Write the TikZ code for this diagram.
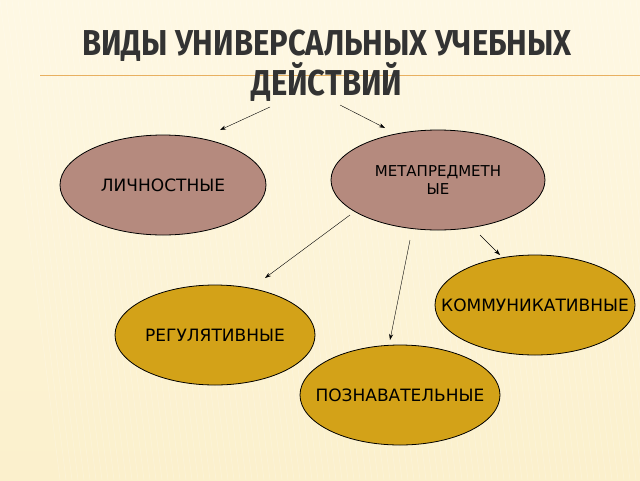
\documentclass[tikz,border=0pt]{standalone}
\usepackage{fontspec}
\setmainfont{DejaVu Sans}
\newfontfamily\titlefont{Fira Sans}
\usetikzlibrary{arrows.meta, shapes.geometric}
\definecolor{bgpale}{HTML}{FBF0CC}
\definecolor{bgtop}{HTML}{FEF8E4}
\definecolor{rosy}{HTML}{B58A7E}
\definecolor{gold}{HTML}{D3A218}
\definecolor{rule}{HTML}{E8B060}
\tikzset{
  kind/.style={ellipse, draw, thick, minimum width=#1, minimum height=100pt, inner sep=0pt},
  word/.style={font=\fontsize{17}{20}\selectfont, align=center},
  link/.style={-{Stealth[length=6pt, width=4pt]}, thin}
}

\begin{document}
\begin{tikzpicture}[x=1pt, y=-1pt]
                % Background:
                \shade[top color=bgtop, bottom color=bgpale] (0,0) rectangle (640,480);
                \useasboundingbox (0,0) rectangle (640,480);
                \foreach \s in {0,6,...,640}
                  \draw[white, opacity=0.25, line width=0.6pt] (\s,0) -- (\s+60,480);
                \draw[rule, line width=1pt] (40,75) -- (640,75);

                % Title:
                \node[font=\titlefont\bfseries\fontsize{36}{29}\selectfont, align=center, text=black!80, xscale=0.86] (title) at (327,66)
                  {ВИДЫ УНИВЕРСАЛЬНЫХ УЧЕБНЫХ\\ДЕЙСТВИЙ};

                % Kinds:
                \node[kind=206pt, fill=rosy] (lichn) at (163,185) {};
                \node[kind=214pt, fill=rosy] (meta) at (438,180) {};
                \node[kind=200pt, fill=gold] (komm) at (535,305) {};
                \node[kind=200pt, fill=gold] (regul) at (215,335) {};
                \node[kind=200pt, fill=gold] (pozn) at (400,395) {};
                \node[word] (lichn text) at (lichn) {ЛИЧНОСТНЫЕ};
                \node[word, font=\fontsize{15}{18}\selectfont] (meta text) at (438,180) {МЕТАПРЕДМЕТН\\ЫЕ};
                \node[word] (komm text) at (komm) {КОММУНИКАТИВНЫЕ};
                \node[word] (regul text) at (regul) {РЕГУЛЯТИВНЫЕ};
                \node[word] (pozn text) at (pozn) {ПОЗНАВАТЕЛЬНЫЕ};

                % Connectors:
                \coordinate (t1) at (270,107);
                \coordinate (t2) at (340,105);
                \coordinate (m1) at (350,215);
                \coordinate (m2) at (410,240);
                \coordinate (m3) at (480,235);
                \coordinate (e1) at (220,130);
                \coordinate (e2) at (385,128);
                \coordinate (e3) at (265,278);
                \coordinate (e4) at (390,340);
                \coordinate (e5) at (500,255);
                \draw[link] (t1) -- (e1);
                \draw[link] (t2) -- (e2);
                \draw[link] (m1) -- (e3);
                \draw[link] (m2) -- (e4);
                \draw[link] (m3) -- (e5);
\end{tikzpicture}
\end{document}
